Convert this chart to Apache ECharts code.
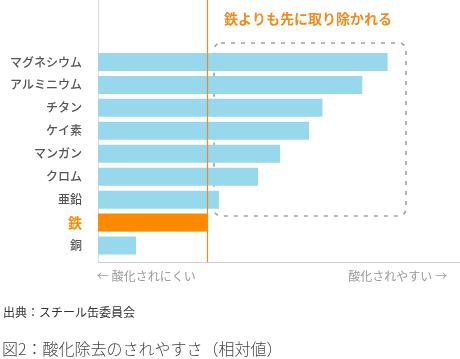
<!DOCTYPE html>
<html><head><meta charset="utf-8">
<script src="https://cdn.jsdelivr.net/npm/echarts@6/dist/echarts.min.js"></script>
<style>html,body{margin:0;padding:0;background:#fff}#c{width:460px;height:359px}</style>
</head><body><div id="c"></div>
<script>
const categories = ['マグネシウム','アルミニウム','チタン','ケイ素','マンガン','クロム','亜鉛','鉄','銅'];
const values = [80, 73, 62, 58.3, 50.3, 44.2, 33.4, 30.1, 10.5];
const ironName = '鉄';
const annotation = '鉄よりも先に取り除かれる';
const leftNote = '← 酸化されにくい';
const rightNote = '酸化されやすい →';
const sourceText = '出典：スチール缶委員会';
const titleText = '図2：酸化除去のされやすさ（相対値）';

const FONT = '"Noto Sans CJK JP", sans-serif';
const ironValue = values[categories.indexOf(ironName)];
const chart = echarts.init(document.getElementById('c'), null, {renderer:'canvas'});
chart.setOption({
  animation: false,
  grid: [
    {left: 98, top: 50.5, width: 362, height: 206.5},
    {left: 98, top: 0, width: 362, height: 262}
  ],
  xAxis: [
    {gridIndex:0, type:'value', min:0, max:100, show:false},
    {gridIndex:1, type:'value', min:0, max:100, axisLine:{show:true, lineStyle:{color:'#cfcfcf'}},
     axisTick:{show:false}, axisLabel:{show:false}, splitLine:{show:false}}
  ],
  yAxis: [
    {gridIndex:0, type:'category', data:categories, inverse:true,
     axisLine:{show:false}, axisTick:{show:false},
     axisLabel:{margin:16, fontFamily:FONT, fontSize:12, color:'#555', fontWeight:500,
       formatter: v => v === ironName ? '{iron|' + v + '}' : v,
       rich:{iron:{fontFamily:FONT, fontSize:14, fontWeight:'bold', color:'#ff8a00'}}}},
    {gridIndex:1, type:'category', data:[''], axisLine:{show:true, lineStyle:{color:'#dddddd'}},
     axisTick:{show:false}, axisLabel:{show:false}}
  ],
  series: [
    {type:'bar', xAxisIndex:0, yAxisIndex:0, barWidth:18, z:2,
     data: values.map((v,i) => ({value:v, itemStyle:{color: categories[i]===ironName ? '#ff8a00' : '#97d8ec'}}))},
    {type:'bar', xAxisIndex:1, yAxisIndex:1, data:[null], z:5,
     markLine:{silent:true, symbol:'none', label:{show:false}, z:5,
       lineStyle:{color:'#f08a24', width:1.2, type:'solid', opacity:1}, data:[{xAxis: ironValue}]}}
  ],
  graphic: [
    {type:'rect', shape:{x:214, y:43, width:192, height:173, r:7},
     style:{fill:'none', stroke:'#a0a0a0', lineWidth:1.6, lineDash:[4,6]}},
    {type:'text', left:224, top:12, style:{text:annotation, font:'bold 14px ' + FONT, fill:'#f28a1c'}},
    {type:'text', left:97, top:270, style:{text:leftNote, font:'12px ' + FONT, fill:'#9a9a9a'}},
    {type:'text', right:13, top:270, style:{text:rightNote, font:'12px ' + FONT, fill:'#9a9a9a'}},
    {type:'text', left:3, top:306, style:{text:sourceText, font:'12px ' + FONT, fill:'#333'}},
    {type:'text', left:2, top:341, style:{text:titleText, font:'300 16px ' + FONT, fill:'#444'}}
  ]
});
</script></body></html>
